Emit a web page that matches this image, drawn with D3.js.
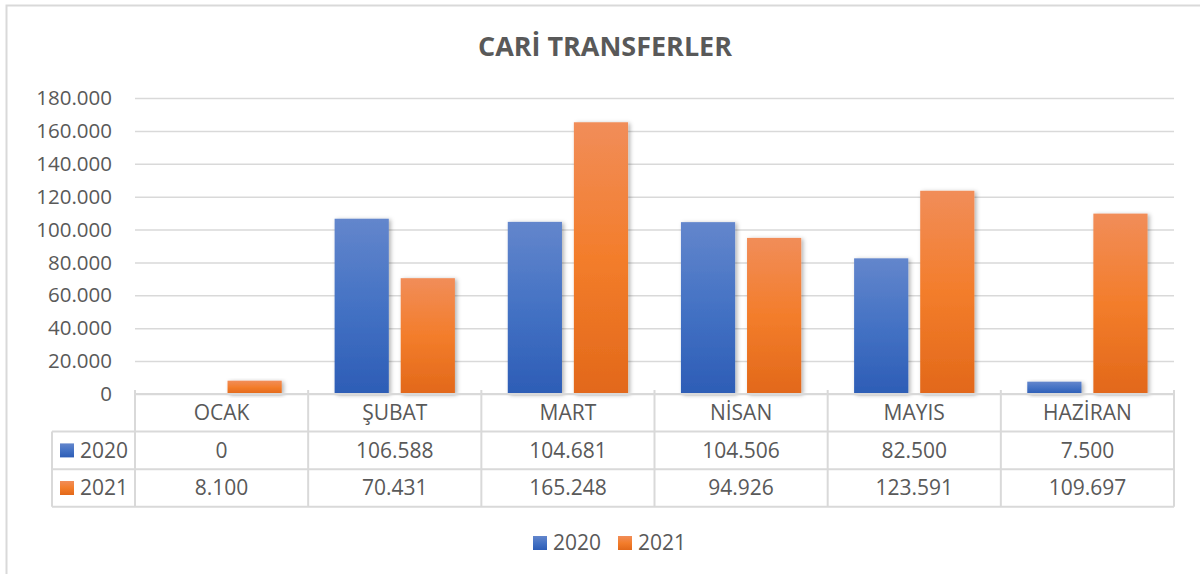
<!DOCTYPE html>
<html>
<head>
<meta charset="utf-8">
<script src="https://cdn.jsdelivr.net/npm/d3@7"></script>
<style>
  html, body { margin: 0; padding: 0; background: #fff; }
  svg { display: block; font-family: "Open Sans", sans-serif; }
</style>
</head>
<body>
<svg id="chart" width="1200" height="574"></svg>
<script>
// chart data
const months = ["OCAK", "ŞUBAT", "MART", "NİSAN", "MAYIS", "HAZİRAN"];
const years = ["2020", "2021"];
const values2020 = [0, 106588, 104681, 104506, 82500, 7500];
const values2021 = [8100, 70431, 165248, 94926, 123591, 109697];
const yTicks = [0, 20000, 40000, 60000, 80000, 100000, 120000, 140000, 160000, 180000];

const textColor = "#595959", lineColor = "#d9d9d9";
const plot = { left: 135, right: 1174, top: 98, bottom: 394 };
const tableLeft = 52, rowH = 37.6;
const fs = 21;

const tr = d3.formatLocale({ decimal: ",", thousands: ".", grouping: [3], currency: ["", "₺"] });
const fmt = tr.format(",d");

const svg = d3.select("#chart");
const defs = svg.append("defs");

// gradients + shadow like the excel bars
const grads = {
  "2020": [["0%", "#6386cc"], ["50%", "#4472c4"], ["100%", "#2d5db6"]],
  "2021": [["0%", "#f18d59"], ["50%", "#f37d2b"], ["100%", "#e2681a"]]
};
years.forEach(function (yr) {
  let g = defs.append("linearGradient").attr("id", "g" + yr)
    .attr("x1", 0).attr("y1", 0).attr("x2", 0).attr("y2", 1);
  grads[yr].forEach(function (s) { g.append("stop").attr("offset", s[0]).attr("stop-color", s[1]); });
});
defs.append("filter").attr("id", "shadow").attr("x", "-20%").attr("y", "-20%").attr("width", "150%").attr("height", "150%")
  .append("feDropShadow").attr("dx", 2).attr("dy", 1).attr("stdDeviation", 2)
  .attr("flood-color", "#000").attr("flood-opacity", 0.3);

// outer frame
svg.append("rect").attr("x", 6.5).attr("y", 5.5).attr("width", 1200).attr("height", 600)
  .attr("fill", "none").attr("stroke", lineColor).attr("stroke-width", 2);

// title
svg.append("text").attr("x", 605).attr("y", 56).attr("text-anchor", "middle")
  .attr("font-size", 26).attr("font-weight", "bold").attr("fill", textColor)
  .attr("textLength", 254).attr("lengthAdjust", "spacingAndGlyphs")
  .text("CARİ TRANSFERLER");

// scales
const y = d3.scaleLinear().domain([0, 180000]).range([plot.bottom, plot.top]);
const x0 = d3.scaleBand().domain(months).range([plot.left, plot.right]);
const x1 = d3.scaleBand().domain(years).range([0, x0.bandwidth()]).paddingInner(0.18).paddingOuter(0.4);

// y axis with gridlines
const yAxis = svg.append("g").attr("transform", "translate(" + plot.left + ",0)")
  .call(d3.axisLeft(y).tickValues(yTicks).tickSize(-(plot.right - plot.left)).tickPadding(23).tickFormat(fmt));
yAxis.select(".domain").remove();
yAxis.selectAll(".tick line").attr("stroke", lineColor).attr("stroke-width", 1.5);
yAxis.selectAll(".tick text").attr("fill", textColor).attr("font-size", 20.5)
  .attr("font-family", "Open Sans, sans-serif");

// bars
const series = years.map(function (yr, i) {
  return { year: yr, values: i === 0 ? values2020 : values2021 };
});
const groups = svg.selectAll(".grp").data(series).enter().append("g").attr("class", "grp");
groups.selectAll("rect").data(function (s) {
  return s.values.map(function (v, j) { return { year: s.year, month: months[j], value: v }; });
}).enter().append("rect")
  .filter(function (d) { return d.value > 0; })
  .attr("x", function (d) { return x0(d.month) + x1(d.year); })
  .attr("y", function (d) { return y(d.value); })
  .attr("width", x1.bandwidth())
  .attr("height", function (d) { return y(0) - y(d.value); })
  .attr("fill", function (d) { return "url(#g" + d.year + ")"; })
  .attr("filter", "url(#shadow)");

// data table
const tbl = svg.append("g").attr("stroke", lineColor).attr("stroke-width", 2).attr("fill", "none");
const tBottom = plot.bottom + rowH * 3;
tbl.append("line").attr("x1", plot.left).attr("x2", plot.right).attr("y1", plot.bottom).attr("y2", plot.bottom);
[1, 2, 3].forEach(function (r) {
  tbl.append("line").attr("x1", tableLeft).attr("x2", plot.right)
    .attr("y1", plot.bottom + rowH * r).attr("y2", plot.bottom + rowH * r);
});
tbl.append("line").attr("x1", tableLeft).attr("x2", tableLeft).attr("y1", plot.bottom + rowH).attr("y2", tBottom);
months.forEach(function (m) {
  tbl.append("line").attr("x1", x0(m)).attr("x2", x0(m)).attr("y1", plot.bottom - 4).attr("y2", tBottom);
});
tbl.append("line").attr("x1", plot.right).attr("x2", plot.right).attr("y1", plot.bottom - 4).attr("y2", tBottom);

const txt = svg.append("g").attr("fill", textColor).attr("font-size", fs).attr("text-anchor", "middle");
months.forEach(function (m) {
  txt.append("text").attr("x", x0(m) + x0.bandwidth() / 2).attr("y", plot.bottom + rowH / 2)
    .attr("dy", "0.35em").text(m);
});
series.forEach(function (s, i) {
  let cy = plot.bottom + rowH * (i + 1.5);
  s.values.forEach(function (v, j) {
    txt.append("text").attr("x", x0(months[j]) + x0.bandwidth() / 2).attr("y", cy)
      .attr("dy", "0.35em").text(fmt(v));
  });
  svg.append("rect").attr("x", 60).attr("y", cy - 7).attr("width", 14).attr("height", 14)
    .attr("fill", "url(#g" + s.year + ")");
  svg.append("text").attr("x", 80).attr("y", cy).attr("dy", "0.35em").attr("font-size", fs)
    .attr("fill", textColor).text(s.year);
});

// legend
const legY = 543;
const leg = svg.append("g");
[533, 618].forEach(function (lx, i) {
  leg.append("rect").attr("x", lx).attr("y", legY - 7).attr("width", 14).attr("height", 14)
    .attr("fill", "url(#g" + years[i] + ")");
  leg.append("text").attr("x", lx + 20).attr("y", legY).attr("dy", "0.35em").attr("font-size", fs)
    .attr("fill", textColor).text(years[i]);
});
</script>
</body>
</html>
